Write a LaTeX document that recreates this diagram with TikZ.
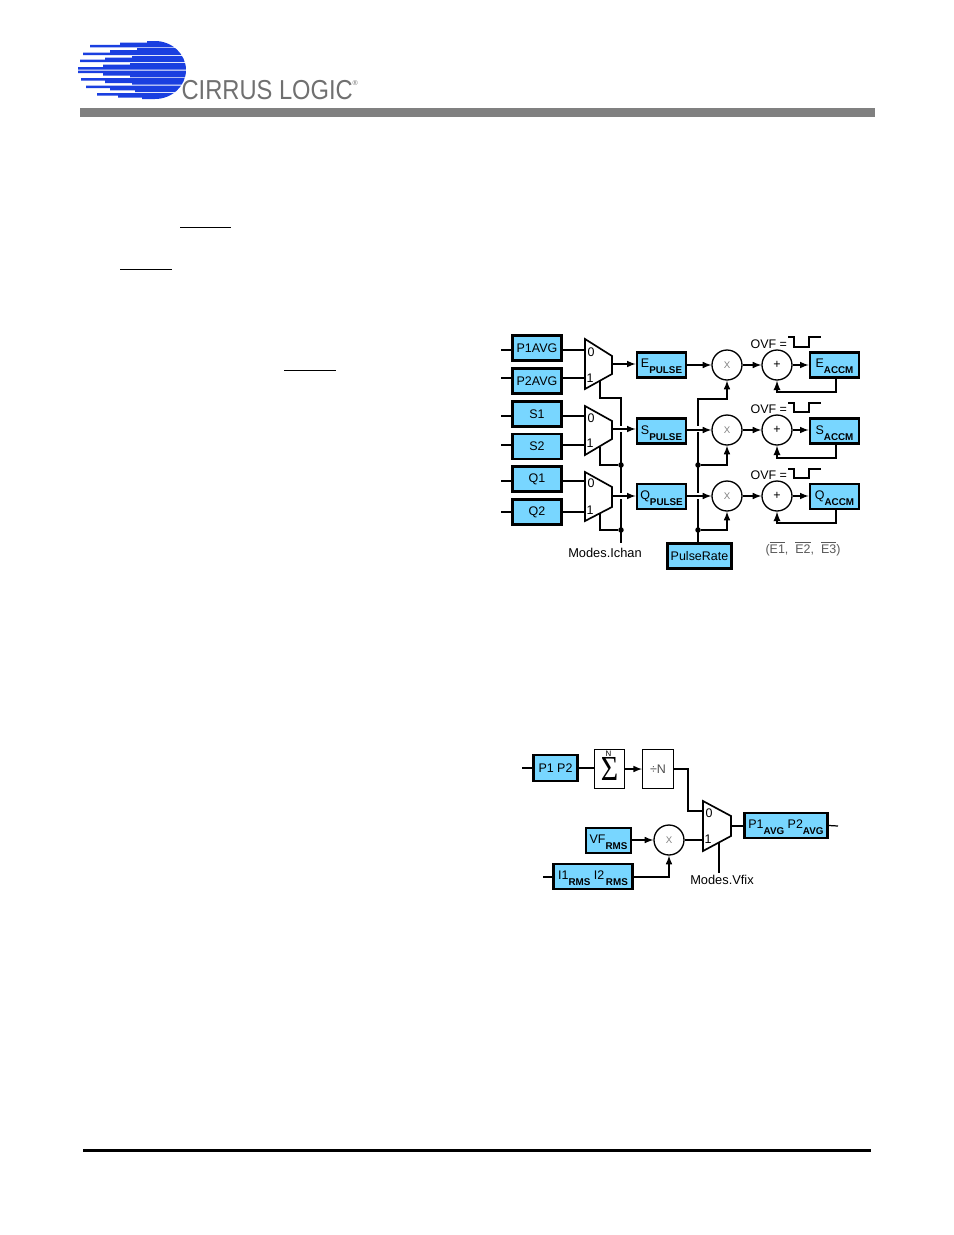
\documentclass[tikz,border=0pt]{standalone}
\usepackage{fontspec}
\setmainfont{Liberation Sans}
\newfontfamily\sigmafont{Liberation Serif}
\usepackage{graphicx}
\definecolor{boxblue}{RGB}{120,214,255}
\definecolor{logoblue}{RGB}{26,63,224}
\definecolor{logogray}{RGB}{112,112,112}
\newcommand{\sublab}[2]{\raisebox{1.5pt}{#1\smash{\raisebox{-3.4pt}{\fontsize{5.6}{6}\selectfont\bfseries #2}}}}

\begin{document}
\begin{tikzpicture}[>=latex,x=0.02cm,y=-0.02cm,line width=0.7pt,
    every node/.style={font=\fontsize{7.1}{8}\selectfont,inner sep=0pt},
    pbox/.style={draw,line width=1.5pt,fill=boxblue,minimum width=0.99cm,minimum height=0.5cm},
    opcirc/.style={circle,draw,line width=0.75pt,fill=white,minimum size=0.6cm},
    tapdot/.style={circle,fill=black,minimum size=0.11cm},
    muxline/.style={line width=0.95pt},
    halo/.style={white,line width=3.4pt}]
  \useasboundingbox (0,0) rectangle (954,1235);

  \begin{scope}
    \clip (60,41) -- (155,41) .. controls (172,41) and (186,54) .. (186,70) .. controls (186,86) and (172,99) .. (155,99) -- (60,99) -- cycle;
    \fill[logoblue] (90,47.3) -- (90,44.8) -- (120,44.8) -- (120,42.5) -- (147,42.5) -- (147,41) -- (190,41) -- (190,47.3) -- cycle;
    \fill[logoblue] (83,55) -- (83,52.5) -- (110,52.5) -- (110,50) -- (137,50) -- (137,48.2) -- (190,48.2) -- (190,55) -- cycle;
    \fill[logoblue] (80,62.2) -- (80,59.7) -- (105,59.7) -- (105,57.5) -- (132,57.5) -- (132,56) -- (190,56) -- (190,62.2) -- cycle;
    \fill[logoblue] (78,69.5) -- (78,67) -- (103,67) -- (103,64.7) -- (130,64.7) -- (130,63) -- (190,63) -- (190,69.5) -- cycle;
    \fill[logoblue] (78,70.5) -- (78,73) -- (103,73) -- (103,75.5) -- (130,75.5) -- (130,77.3) -- (190,77.3) -- (190,70.5) -- cycle;
    \fill[logoblue] (81,78.2) -- (81,80.7) -- (105,80.7) -- (105,83) -- (132,83) -- (132,84.6) -- (190,84.6) -- (190,78.2) -- cycle;
    \fill[logoblue] (86,85.5) -- (86,88) -- (110,88) -- (110,90.3) -- (135,90.3) -- (135,92) -- (190,92) -- (190,85.5) -- cycle;
    \fill[logoblue] (97,93) -- (97,95.5) -- (118,95.5) -- (118,97.5) -- (142,97.5) -- (142,99) -- (190,99) -- (190,93) -- cycle;
  \end{scope}
  \node[anchor=west,text=logogray,font=\fontsize{15.6}{16}\selectfont] (logotext) at (181,90) {\scalebox{.865}[1]{CIRRUS LOGIC}};
  \node[anchor=west,text=logogray,font=\fontsize{4}{4}\selectfont] (logomark) at (352,83) {®};
  \fill[gray] (80,108) rectangle (875,117);
  \fill (83,1149) rectangle (871,1152);
  \fill (180,226.5) rectangle (231,228);
  \fill (120,268.5) rectangle (172,270);
  \fill (284,369.5) rectangle (336,371);

  \node[pbox] (boxPA) at (537,348) {P1AVG};
  \node[pbox] (boxPB) at (537,381) {P2AVG};
  \node[pbox] (boxSA) at (537,414) {S1};
  \node[pbox] (boxSB) at (537,446.5) {S2};
  \node[pbox] (boxQA) at (537,479) {Q1};
  \node[pbox] (boxQB) at (537,512) {Q2};

  \coordinate (inPA) at (501,350);
  \coordinate (inPB) at (501,378);
  \coordinate (inSA) at (501,416);
  \coordinate (inSB) at (501,445);
  \coordinate (inQA) at (501,481);
  \coordinate (inQB) at (501,512);
  \coordinate (muxE0) at (585,350);
  \coordinate (muxE1) at (585,378);
  \coordinate (muxEo) at (612,364);
  \coordinate (muxEs) at (600,381);
  \coordinate (muxS0) at (585,416);
  \coordinate (muxS1) at (585,445);
  \coordinate (muxSo) at (612,429);
  \coordinate (muxSs) at (600,447);
  \coordinate (muxQ0) at (585,481);
  \coordinate (muxQ1) at (585,512);
  \coordinate (muxQo) at (612,496);
  \coordinate (muxQs) at (600,513);

  \draw (inPA) -- (inPA -| boxPA.west);
  \draw (inPB) -- (inPB -| boxPB.west);
  \draw (inSA) -- (inSA -| boxSA.west);
  \draw (inSB) -- (inSB -| boxSB.west);
  \draw (inQA) -- (inQA -| boxQA.west);
  \draw (inQB) -- (inQB -| boxQB.west);
  \draw (boxPA.east |- muxE0) -- (muxE0);
  \draw (boxPB.east |- muxE1) -- (muxE1);
  \draw (boxSA.east |- muxS0) -- (muxS0);
  \draw (boxSB.east |- muxS1) -- (muxS1);
  \draw (boxQA.east |- muxQ0) -- (muxQ0);
  \draw (boxQB.east |- muxQ1) -- (muxQ1);

  \draw[muxline,fill=white] (585,339) -- (612,356) -- (612,374) -- (585,389) -- cycle;
  \draw[muxline,fill=white] (585,406) -- (612,421) -- (612,439) -- (585,455) -- cycle;
  \draw[muxline,fill=white] (585,472) -- (612,487) -- (612,507) -- (585,521) -- cycle;
  \node (labE0) at (591,352) {0};
  \node (labE1) at (590,378) {1};
  \node (labS0) at (591,418) {0};
  \node (labS1) at (590,443) {1};
  \node (labQ0) at (591,483) {0};
  \node (labQ1) at (590,510) {1};

  \node[pbox,minimum width=0.98cm] (pulseE) at (661.5,365) {\sublab{E}{PULSE}};
  \node[pbox,minimum width=0.98cm] (pulseS) at (661.5,431) {\sublab{S}{PULSE}};
  \node[pbox,minimum width=0.98cm] (pulseQ) at (661.5,496.5) {\sublab{Q}{PULSE}};
  \node[opcirc] (mulE) at (727,365) {\textcolor{gray}{\fontsize{5.5}{6}\selectfont X}};
  \node[opcirc] (mulS) at (727,430) {\textcolor{gray}{\fontsize{5.5}{6}\selectfont X}};
  \node[opcirc] (mulQ) at (727,496) {\textcolor{gray}{\fontsize{5.5}{6}\selectfont X}};
  \node[opcirc] (addE) at (777,365) {+};
  \node[opcirc] (addS) at (777,430) {+};
  \node[opcirc] (addQ) at (777,496) {+};
  \node[pbox,minimum width=0.98cm] (accmE) at (834.5,365) {\sublab{E}{ACCM}};
  \node[pbox,minimum width=0.98cm] (accmS) at (834.5,431) {\sublab{S}{ACCM}};
  \node[pbox,minimum width=0.98cm] (accmQ) at (834.5,496.5) {\sublab{Q}{ACCM}};
  \node[pbox,minimum width=1.29cm] (rate) at (699.5,556) {PulseRate};

  \node[tapdot] (selS) at (621,465) {};
  \node[tapdot] (selQ) at (621,530) {};
  \node[tapdot] (tapS) at (698,465) {};
  \node[tapdot] (tapQ) at (698,530) {};
  \coordinate (selTop) at (621,398);
  \coordinate (selEnd) at (621,543);
  \coordinate (tapTop) at (698,399);
  \coordinate (fbE) at (836,392);
  \coordinate (fbS) at (836,458);
  \coordinate (fbQ) at (836,523);

  \draw (muxEs) |- (selTop) -- (selEnd);
  \draw (muxSs) |- (selS);
  \draw (muxQs) |- (selQ);
  \draw[->] (rate.north -| tapTop) -- (tapTop) -| (mulE.south);
  \draw[->] (tapS) -| (mulS.south);
  \draw[->] (tapQ) -| (mulQ.south);

  \draw[halo] (618,429) -- (624,429);
  \draw[halo] (618,496) -- (624,496);
  \draw[halo] (695,429) -- (701,429);
  \draw[halo] (695,496) -- (701,496);

  \draw[->] (muxEo) -- (muxEo -| pulseE.west);
  \draw[->] (muxSo) -- (muxSo -| pulseS.west);
  \draw[->] (muxQo) -- (muxQo -| pulseQ.west);
  \draw[->] (pulseE.east |- mulE) -- (mulE);
  \draw[->] (pulseS.east |- mulS) -- (mulS);
  \draw[->] (pulseQ.east |- mulQ) -- (mulQ);
  \draw[->] (mulE) -- (addE);
  \draw[->] (mulS) -- (addS);
  \draw[->] (mulQ) -- (addQ);
  \draw[->] (addE) -- (accmE.west |- addE);
  \draw[->] (addS) -- (accmS.west |- addS);
  \draw[->] (addQ) -- (accmQ.west |- addQ);
  \draw[->,line width=0.85pt] (accmE.south -| fbE) -- (fbE) -| (addE.south);
  \draw[->,line width=0.85pt] (accmS.south -| fbS) -- (fbS) -| (addS.south);
  \draw[->,line width=0.85pt] (accmQ.south -| fbQ) -- (fbQ) -| (addQ.south);

  \node[anchor=west] (ovfE) at (750,344) {OVF =};
  \node[anchor=west] (ovfS) at (750,409) {OVF =};
  \node[anchor=west] (ovfQ) at (750,475) {OVF =};
  \draw (788,337) -- ++(6,0) -- ++(0,10) -- ++(15,0) -- ++(0,-10) -- ++(12,0);
  \draw (788,403) -- ++(6,0) -- ++(0,9) -- ++(15,0) -- ++(0,-9) -- ++(12,0);
  \draw (788,469) -- ++(6,0) -- ++(0,9) -- ++(15,0) -- ++(0,-9) -- ++(12,0);
  \node[font=\fontsize{7.3}{8}\selectfont] (modesI) at (605,553) {Modes.Ichan};
  \node[text=black!65] (flags) at (803,549) {($\overline{\mbox{E1}}$,\ \ $\overline{\mbox{E2}}$,\ \ $\overline{\mbox{E3}}$)};

  \node[pbox,minimum width=0.89cm,minimum height=0.52cm] (boxP) at (555.5,768) {P1 P2};
  \node[draw,line width=1.1pt,minimum width=0.6cm,minimum height=0.78cm] (sumN) at (609.5,769) {\raisebox{-5pt}{\scalebox{.85}[1]{\sigmafont\fontsize{20}{20}\selectfont Σ}}};
  \node[font=\fontsize{4.5}{5}\selectfont] (sumTop) at (608.5,754) {N};
  \node[draw,line width=0.5pt,minimum width=0.62cm,minimum height=0.78cm] (divN) at (658,769) {\textcolor{black!70}{÷N}};
  \node[pbox,minimum width=0.9cm] (boxV) at (608.5,840.5) {\sublab{VF}{RMS}};
  \node[pbox,minimum width=1.59cm] (boxI) at (593,876.5) {\sublab{I1}{RMS}\ \sublab{I2}{\,RMS}};
  \node[opcirc] (mulV) at (669,840) {\textcolor{gray}{\fontsize{5.5}{6}\selectfont X}};
  \node[pbox,minimum width=1.67cm] (boxA) at (786,825.5) {\sublab{P1}{AVG}\ \sublab{P2}{AVG}};
  \coordinate (inP) at (522,768);
  \coordinate (inI) at (543,877);
  \coordinate (outA) at (838,826);
  \coordinate (bendV) at (688,769);
  \coordinate (muxV0) at (703,811);
  \coordinate (muxV1) at (703,840);
  \coordinate (muxVo) at (731,826);
  \coordinate (muxVs) at (719,843);
  \coordinate (selV) at (719,873);

  \draw (inP) -- (boxP.west);
  \draw (boxP.east) -- (sumN.west |- boxP);
  \draw[->] (sumN.east) -- (divN.west);
  \draw (divN.east) -- (bendV) |- (muxV0);
  \draw[->] (boxV.east |- mulV) -- (mulV);
  \draw (inI) -- (inI -| boxI.west);
  \draw[->] (boxI.east |- inI) -| (mulV.south);
  \draw (mulV) -- (muxV1);
  \draw[muxline,fill=white] (703,801) -- (731,816) -- (731,836) -- (703,851) -- cycle;
  \node (labV0) at (709,813) {0};
  \node (labV1) at (708,839) {1};
  \draw (muxVo) -- (muxVo -| boxA.west);
  \draw (boxA.east) -- (outA);
  \draw[line width=0.95pt] (muxVs) -- (selV);
  \node[font=\fontsize{7.3}{8}\selectfont] (modesV) at (722,880) {Modes.Vfix};
\end{tikzpicture}
\end{document}
